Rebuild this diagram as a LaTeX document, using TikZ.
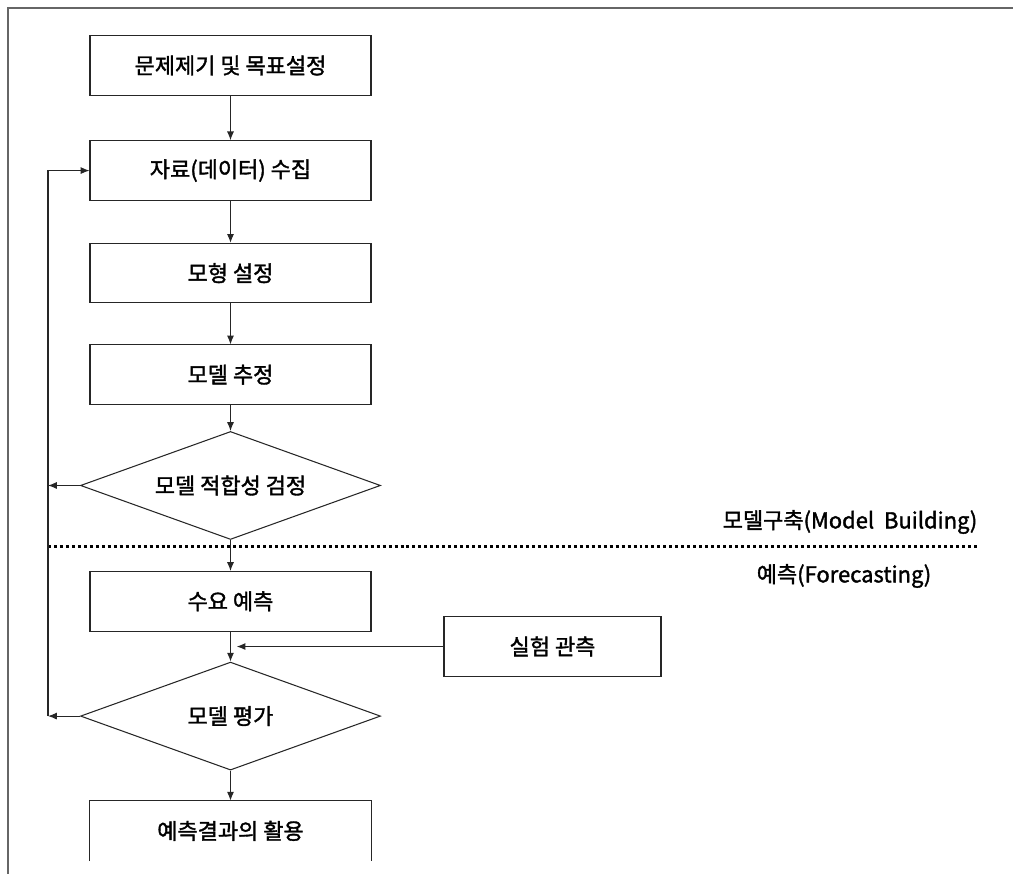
\documentclass[tikz,border=0pt]{standalone}
\usepackage{fontspec}
\setmainfont{Noto Sans CJK KR}[FakeBold=1.6]
\usepackage{tikz}
\usetikzlibrary{arrows.meta, positioning, shapes.geometric}

\begin{document}
\begin{tikzpicture}[
            node distance=0.86cm,
            every node/.style={font=\fontsize{12.5}{14}\selectfont},
            block/.style={
                rectangle,
                draw=black!85,
                line width=0.6pt,
                minimum width=5.62cm,
                minimum height=1.19cm,
                inner sep=0pt
            },
            openblock/.style={
                block,
                draw=none
            },
            decision/.style={
                diamond,
                aspect=2.78,
                draw=black!85,
                line width=0.6pt,
                minimum width=6cm,
                minimum height=2.16cm,
                inner sep=0pt
            },
            line/.style={
                draw=black!85,
                line width=0.6pt,
                -{Latex[length=5pt, width=4pt]}
            }
        ]
            \useasboundingbox (0,0) rectangle (20.26,-17.48);
            % --- frame ---
            \draw[black!60, line width=0.6pt] (20.26,-0.16) -- (0.16,-0.16) -- (0.16,-17.48);

            % --- NODOS ---
            \node [block] (goal) at (4.61,-1.31) {문제제기 및 목표설정};
            \node [block, below=0.89cm of goal] (data) {자료(데이터) 수집};
            \node [block, below=0.84cm of data] (spec) {모형 설정};
            \node [block, below=0.82cm of spec] (estim) {모델 추정};
            \node [decision, below=0.52cm of estim] (fit) {모델 적합성 검정};
            \node [block, below=0.62cm of fit] (demand) {수요 예측};
            \node [decision, below=0.6cm of demand] (eval) {모델 평가};
            \node [openblock, below=0.6cm of eval] (use) {예측결과의 활용};
            \draw[black!85, line width=0.6pt] (use.south west) -- (use.north west) -- (use.north east) -- (use.south east);
            \node [block, minimum width=4.34cm, minimum height=1.21cm] (obs) at (11.05,-12.93) {실험 관측};

            \coordinate (fb) at (0.96,0);
            \coordinate (sepL) at (0.96,-10.92);
            \coordinate (sepR) at (19.6,-10.92);

            % --- separador ---
            \draw[black, line width=1.7pt, dash pattern=on 1.7pt off 1.7pt] (sepL) -- (sepR);
            \node (build) at (17.0,-10.44) {모델구축(Model~ Building)};
            \node (fcast) at (16.88,-11.52) {예측(Forecasting)};

            % --- ENLACES ---
            \path [line] (goal) -- (data);
            \path [line] (data) -- (spec);
            \path [line] (spec) -- (estim);
            \path [line] (estim) -- (fit);
            \path [line] (fit) -- (demand);
            \path [line] (demand) -- (eval);
            \path [line] (eval) -- (use);
            \path [line, shorten >=3.5pt] (obs.west) -- (obs.west -| demand.south);

            \path [line] (fit.west) -- (fit.west -| fb);
            \path [line] (eval.west) -- (eval.west -| fb);
            \path [line] (eval.west -| fb) |- (data.west);
\end{tikzpicture}
\end{document}
